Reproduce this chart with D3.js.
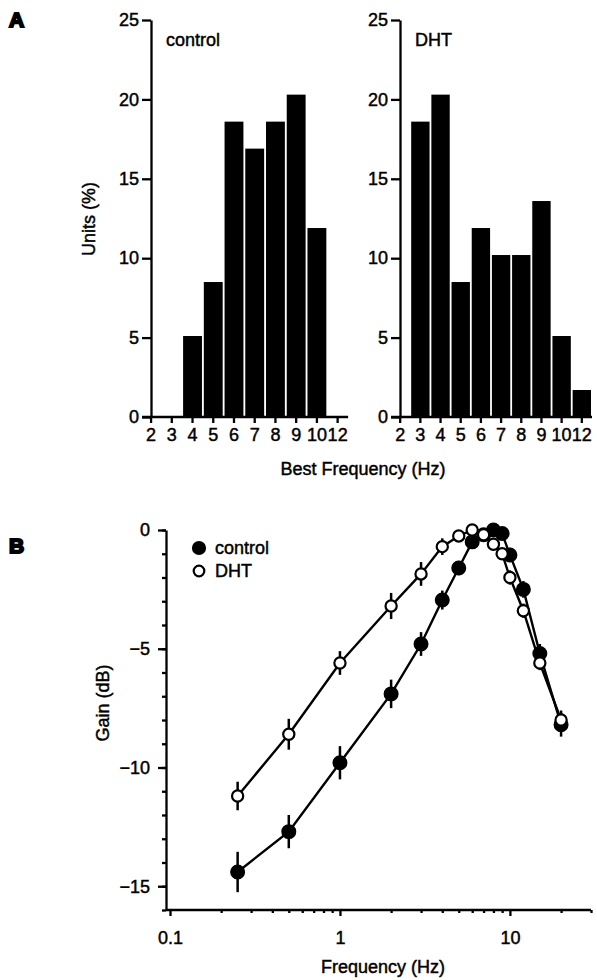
<!DOCTYPE html>
<html>
<head>
<meta charset="utf-8">
<script src="https://cdn.jsdelivr.net/npm/d3@7"></script>
<style>
  body { margin: 0; background: #fff; }
  svg { font-family: "Liberation Sans", Arial, sans-serif; }
  svg text { stroke: #000; stroke-width: 0.45; }
  .axis path, .axis line { stroke: #000; stroke-width: 2.3; }
  .axis text { font-size: 18px; fill: #000; }
</style>
</head>
<body>
<svg id="fig" width="597" height="980"></svg>
<script>
// panel A: distribution of best frequencies
const bfCategories = ["2", "3", "4", "5", "6", "7", "8", "9", "10", "12"];
const controlUnits = [0, 0, 5.1, 8.5, 18.6, 16.9, 18.6, 20.3, 11.9, 0];
const dhtUnits = [0, 18.6, 20.3, 8.5, 11.9, 10.2, 10.2, 13.6, 5.1, 1.7];
const unitTicks = [0, 5, 10, 15, 20, 25];

// panel B: gain vs frequency
const freqs = [0.25, 0.5, 1, 2, 3, 4, 5, 6, 7, 8, 9, 10, 12, 15, 20];
const controlGain = [-14.4, -12.7, -9.8, -6.9, -4.8, -2.95, -1.6, -0.5, -0.2, 0.0, -0.15, -1.05, -2.5, -5.2, -8.2];
const controlSem = [0.85, 0.7, 0.7, 0.6, 0.5, 0.4, 0.3, 0.25, 0.2, 0.2, 0.2, 0.3, 0.35, 0.4, 0.5];
const dhtGain = [-11.2, -8.6, -5.6, -3.2, -1.85, -0.7, -0.25, 0.0, -0.2, -0.6, -1.0, -2.0, -3.4, -5.6, -8.0];
const dhtSem = [0.6, 0.65, 0.5, 0.55, 0.5, 0.35, 0.25, 0.2, 0.2, 0.2, 0.2, 0.3, 0.3, 0.3, 0.4];
const gainTicks = [0, -5, -10, -15];
const freqTicks = [0.1, 1, 10];

const svg = d3.select("#fig");

// panel letters
svg.append("text").attr("x", 9).attr("y", 27).text("A")
    .attr("font-size", 21).attr("font-weight", "bold")
    .style("stroke-width", 2);
svg.append("text").attr("x", 9).attr("y", 553).text("B")
    .attr("font-size", 21).attr("font-weight", "bold")
    .style("stroke-width", 2);

const yA = d3.scaleLinear().domain([0, 25]).range([417, 20]);

function histogram(x0, x1, axisX, values, label) {
    const x = d3.scaleBand().domain(bfCategories).range([x0, x1]).paddingInner(0.09).paddingOuter(0.05);
    const g = svg.append("g");

    g.selectAll("rect")
        .data(values)
        .enter()
        .append("rect")
        .attr("x", (d, i) => x(bfCategories[i]))
        .attr("width", x.bandwidth())
        .attr("y", (d) => yA(d))
        .attr("height", (d) => yA(0) - yA(d))
        .attr("fill", "#000");

    g.append("g")
        .attr("class", "axis")
        .attr("transform", `translate(0,${yA(0)})`)
        .call(d3.axisBottom(x).tickSize(6).tickPadding(5))
        .call((a) => a.select(".domain").attr("d", `M${axisX - 9},0H${x1}`));

    g.append("g")
        .attr("class", "axis")
        .attr("transform", `translate(${axisX},0)`)
        .call(d3.axisLeft(yA).tickValues(unitTicks).tickSize(9).tickPadding(3).tickSizeOuter(0));

    g.append("text")
        .attr("x", axisX + 15)
        .attr("y", 46)
        .attr("font-size", 18)
        .text(label);
}

histogram(140.6, 348.1, 151, controlUnits, "control");
histogram(390, 592, 400, dhtUnits, "DHT");

svg.append("text")
    .attr("transform", "translate(95,219) rotate(-90)")
    .attr("text-anchor", "middle")
    .attr("font-size", 18)
    .text("Units (%)");

svg.append("text")
    .attr("x", 363)
    .attr("y", 475)
    .attr("text-anchor", "middle")
    .attr("font-size", 18)
    .text("Best Frequency (Hz)");

// panel B
const xB = d3.scaleLog().domain([0.1, 30]).range([170, 591]);
const yB = d3.scaleLinear().domain([-16, 0]).range([910, 530]);
const axB = 166;

const gB = svg.append("g");

// y axis with minor ticks
gB.append("g")
    .attr("class", "axis")
    .attr("transform", `translate(${axB},0)`)
    .call(d3.axisLeft(yB).tickValues(d3.range(-16, 1)).tickSize(4).tickFormat("").tickSizeOuter(0));
gB.append("g")
    .attr("class", "axis")
    .attr("transform", `translate(${axB},0)`)
    .call(d3.axisLeft(yB).tickValues(gainTicks).tickSize(8).tickPadding(8).tickSizeOuter(0))
    .call((a) => a.select(".domain").remove());

// x axis with minor ticks
const minorFreqs = xB.ticks().filter((f) => freqTicks.indexOf(f) < 0);
gB.append("g")
    .attr("class", "axis")
    .attr("transform", `translate(0,${yB(-16)})`)
    .call(d3.axisBottom(xB).tickValues(minorFreqs).tickSize(3).tickFormat("").tickSizeOuter(0))
    .call((a) => a.select(".domain").attr("d", `M${axB},0H${xB(30)}`));
gB.append("g")
    .attr("class", "axis")
    .attr("transform", `translate(0,${yB(-16)})`)
    .call(d3.axisBottom(xB).tickValues(freqTicks).tickSize(6).tickPadding(15).tickFormat(d3.format("")))
    .call((a) => a.select(".domain").remove());

const series = [
    { name: "control", gain: controlGain, sem: controlSem, fill: "#000" },
    { name: "DHT", gain: dhtGain, sem: dhtSem, fill: "#fff" }
];

const line = d3.line().x((d) => xB(d.f)).y((d) => yB(d.g));

series.forEach((s) => {
    const pts = freqs.map((f, i) => ({ f: f, g: s.gain[i], e: s.sem[i] }));
    const sg = gB.append("g");

    sg.append("path")
        .datum(pts)
        .attr("fill", "none")
        .attr("stroke", "#000")
        .attr("stroke-width", 2.4)
        .attr("d", line);

    sg.selectAll(".err")
        .data(pts)
        .enter()
        .append("line")
        .attr("x1", (d) => xB(d.f))
        .attr("x2", (d) => xB(d.f))
        .attr("y1", (d) => yB(d.g - d.e))
        .attr("y2", (d) => yB(d.g + d.e))
        .attr("stroke", "#000")
        .attr("stroke-width", 2.5);

    sg.selectAll("circle")
        .data(pts)
        .enter()
        .append("circle")
        .attr("cx", (d) => xB(d.f))
        .attr("cy", (d) => yB(d.g))
        .attr("r", s.fill === "#000" ? 6.4 : 5.6)
        .attr("fill", s.fill)
        .attr("stroke", "#000")
        .attr("stroke-width", 2.2);
});

// legend
const legend = gB.append("g");
series.forEach((s, i) => {
    legend.append("circle")
        .attr("cx", 199)
        .attr("cy", 548 + i * 23)
        .attr("r", s.fill === "#000" ? 6 : 5.3)
        .attr("fill", s.fill)
        .attr("stroke", "#000")
        .attr("stroke-width", 2.2);
    legend.append("text")
        .attr("x", 215)
        .attr("y", 554 + i * 23)
        .attr("font-size", 18)
        .text(s.name);
});

svg.append("text")
    .attr("transform", "translate(109,703) rotate(-90)")
    .attr("text-anchor", "middle")
    .attr("font-size", 18)
    .text("Gain (dB)");

svg.append("text")
    .attr("x", 383)
    .attr("y", 973)
    .attr("text-anchor", "middle")
    .attr("font-size", 18)
    .text("Frequency (Hz)");
</script>
</body>
</html>
